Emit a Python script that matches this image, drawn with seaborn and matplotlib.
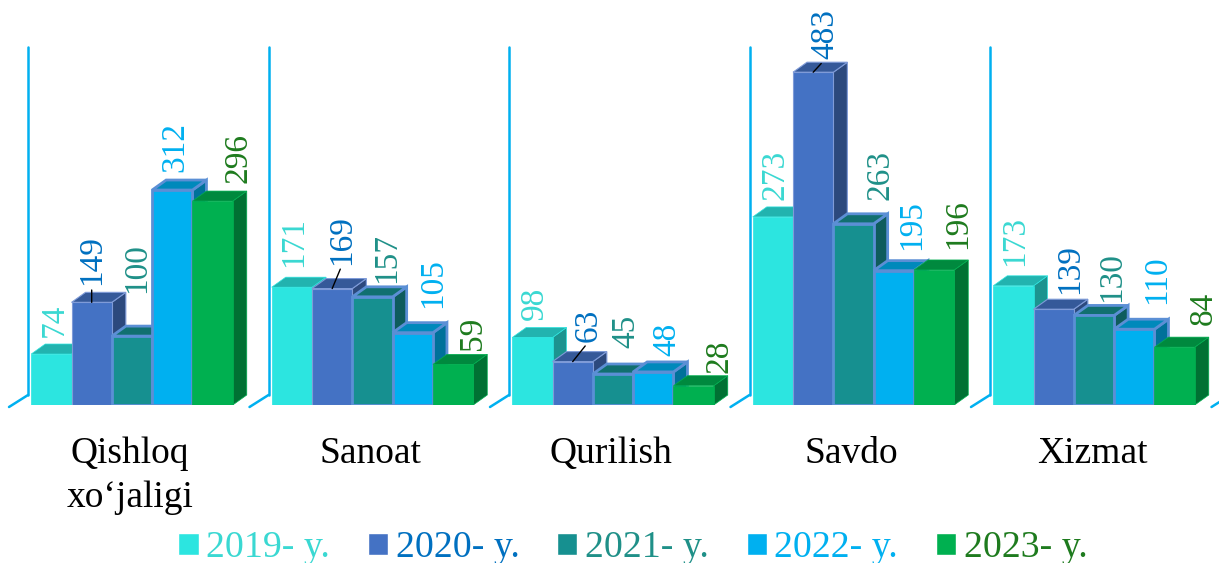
import numpy as np
import pandas as pd
import seaborn as sns
import matplotlib.pyplot as plt
from matplotlib.patches import Polygon
from matplotlib.colors import to_rgb
from matplotlib.transforms import ScaledTranslation

#data
categories = ["Qishloq\nxo‘jaligi", "Sanoat", "Qurilish", "Savdo", "Xizmat"]
years = ["2019- y.", "2020- y.", "2021- y.", "2022- y.", "2023- y."]
v2019 = [74, 171, 98, 273, 173]
v2020 = [149, 169, 63, 483, 139]
v2021 = [100, 157, 45, 263, 130]
v2022 = [312, 105, 48, 195, 110]
v2023 = [296, 59, 28, 196, 84]
allValues = [v2019, v2020, v2021, v2022, v2023]

#colors
barColors = ["#2CE5E0", "#4472C4", "#169090", "#00B0F0", "#00B050"]
textColors = ["#3AD8D2", "#0070C0", "#1F9088", "#00B0F0", "#1E7B1E"]
edgeColors = ["#2CE5E0", "#7F9BD8", "#5B8FD5", "#5B8FD5", "#00B050"]
edgeWidths = [0.5, 0.8, 2.0, 2.0, 0.5]

#label offsets from the bar top centre, in pixels (dx, dy), one row per year
labelOffsets = [
    [(1, 17), (0, 20), (0, 17), (0, 17), (-1, 20)],
    [(-2, 17), (8, 24), (14, 20), (10, 13), (14, 15)],
    [(3, 43), (12, 14), (11, 26), (25, 24), (16, 13)],
    [(1, 18), (18, 25), (12, 16), (16, 21), (21, 25)],
    [(24, 18), (18, 14), (24, 13), (22, 21), (27, 22)],
]
textCentering = 2
#(year index, category index) of labels with a leader line
leaders = [(1, 0), (1, 1), (1, 2), (1, 3)]

#pixel geometry
W, H = 1219, 563
basePx = 405
pxPerCat = 240.5
pxPerUnit = 0.689
firstCatPx = 132
depthX = 14 / pxPerCat
depthY = 10 / pxPerUnit


def shade(col, k):
    return tuple(c * k for c in to_rgb(col))


rows = []
for year, vals in zip(years, allValues):
    for cat, val in zip(categories, vals):
        rows.append({"cat": cat, "year": year, "value": val})
df = pd.DataFrame(rows)

sns.set_theme(style="white")
plt.rcParams["font.family"] = ["Liberation Serif", "DejaVu Serif"]

fig = plt.figure(figsize=(W / 100, H / 100), dpi=100)
ax = fig.add_axes([0, 1 - basePx / H, 1, basePx / H])

sns.barplot(data=df, x="cat", y="value", hue="year", palette=barColors,
            width=0.838, gap=0, saturation=1, ax=ax)

ax.set_xlim(-firstCatPx / pxPerCat, (W - firstCatPx) / pxPerCat)
ax.set_ylim(0, basePx / pxPerUnit)
ax.set_xlabel("")
ax.set_ylabel("")
ax.set_yticks([])
sns.despine(ax=ax, left=True, bottom=True)
ax.patch.set_alpha(0)
ax.tick_params(axis="x", length=0, pad=23, labelsize=27, colors="black")
shiftLeft = ScaledTranslation(-2 / 100, 0, fig.dpi_scale_trans)
for lab in ax.get_xticklabels():
    lab.set_linespacing(1.36)
    lab.set_transform(lab.get_transform() + shiftLeft)

#back walls of the 3d plot
wallTop = 520
for i in range(len(categories) + 1):
    x0 = i - 0.4324
    if i < len(categories):
        ax.plot([x0, x0], [depthY, wallTop], color="#00B0F0", lw=1.8, zorder=1, clip_on=False)
    ax.plot([x0, x0 - 19 / pxPerCat], [depthY, -2 / pxPerUnit], color="#00B0F0", lw=1.8,
            zorder=1, clip_on=False)

#fake depth, one top and one side face for every bar
for s, bars in enumerate(ax.containers):
    col = barColors[s]
    for c, bar in enumerate(bars):
        x = bar.get_x()
        w = bar.get_width()
        h = bar.get_height()
        z = 2 + c * 10 + s
        bar.set_zorder(z + 0.2)
        bar.set_edgecolor(edgeColors[s])
        bar.set_linewidth(edgeWidths[s])
        top = Polygon([(x, h), (x + depthX, h + depthY), (x + w + depthX, h + depthY), (x + w, h)],
                      closed=True, facecolor=shade(col, 0.78), edgecolor=edgeColors[s],
                      linewidth=edgeWidths[s], zorder=z)
        side = Polygon([(x + w, 0), (x + w + depthX, depthY), (x + w + depthX, h + depthY), (x + w, h)],
                       closed=True, facecolor=shade(col, 0.64), edgecolor=edgeColors[s],
                       linewidth=edgeWidths[s], zorder=z)
        ax.add_patch(side)
        ax.add_patch(top)

        dx, dy = labelOffsets[s][c]
        arrow = None
        if (s, c) in leaders:
            arrow = dict(arrowstyle="-", color="black", lw=1, shrinkA=1, shrinkB=0, relpos=(0.5, 0))
        ax.annotate(str(allValues[s][c]), xy=(x + w / 2, h),
                    xytext=((dx + textCentering) * 0.72, dy * 0.72),
                    textcoords="offset points", rotation=90, ha="center", va="bottom",
                    fontsize=24, color=textColors[s], zorder=200, arrowprops=arrow,
                    annotation_clip=False)

#legend along the bottom
handles, labels = ax.get_legend_handles_labels()
if ax.get_legend() is not None:
    ax.get_legend().remove()
fig.legend(handles, labels, loc="center", bbox_to_anchor=(633 / W, 1 - 548 / H), ncol=5,
           frameon=False, fontsize=27.3, labelcolor=textColors, handlelength=0.53,
           handleheight=0.53, handletextpad=0.2, columnspacing=1.0, borderpad=0)

fig.savefig("out.png", dpi=100)
